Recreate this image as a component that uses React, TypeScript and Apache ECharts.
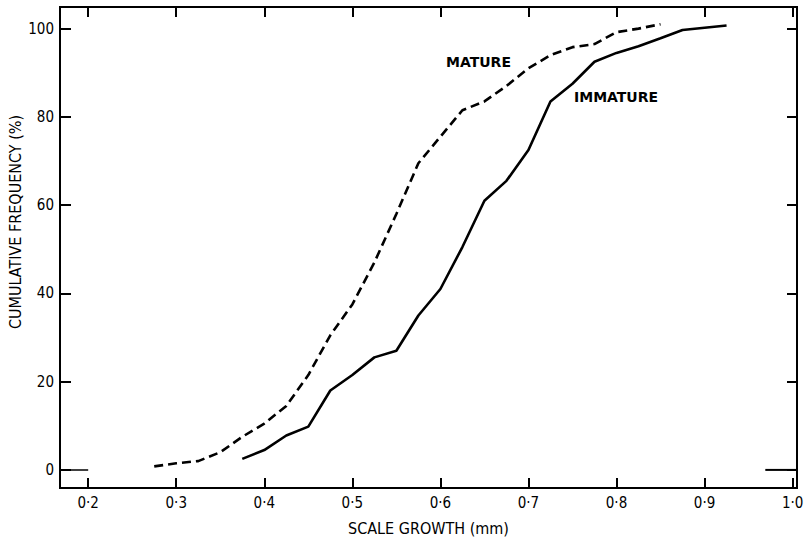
import React, { useEffect, useRef } from "react";
import * as echarts from "echarts";

// Data
const matureX = [0.275, 0.3, 0.325, 0.35, 0.375, 0.4, 0.425, 0.45, 0.475, 0.5, 0.525, 0.55, 0.575, 0.6, 0.625, 0.65, 0.675, 0.7, 0.725, 0.75, 0.775, 0.8, 0.825, 0.85];
const matureY = [0.8, 1.5, 2.0, 4.0, 7.5, 10.5, 14.5, 21.5, 30.5, 37.5, 47, 58, 69.5, 75.5, 81.5, 83.5, 87, 91, 94, 95.8, 96.5, 99.2, 100, 101];

const immatureX = [0.375, 0.4, 0.425, 0.45, 0.475, 0.5, 0.525, 0.55, 0.575, 0.6, 0.625, 0.65, 0.675, 0.7, 0.725, 0.75, 0.775, 0.8, 0.825, 0.85, 0.875, 0.9, 0.925];
const immatureY = [2.5, 4.5, 7.8, 9.8, 18, 21.5, 25.5, 27, 35, 41, 50.5, 61, 65.5, 72.5, 83.5, 87.5, 92.5, 94.5, 96, 97.8, 99.7, 100.2, 100.7];

const xTicks = [0.2, 0.3, 0.4, 0.5, 0.6, 0.7, 0.8, 0.9, 1.0];
const yTicks = [0, 20, 40, 60, 80, 100];

const X_MIN = 0.168;
const X_MAX = 1.005;
const Y_MIN = -4.1;
const Y_MAX = 104.9;

const zeroLeft = [[X_MIN, 0], [0.2, 0]];
const zeroRight = [[0.969, 0], [X_MAX, 0]];

const FONT = '"DejaVu Sans Condensed", "DejaVu Sans", sans-serif';
const LABEL_FONT = '"DejaVu Sans", sans-serif';

export default function App() {
  const ref = useRef<HTMLDivElement>(null);
  useEffect(() => {
    if (!ref.current) return;
    const chart = echarts.init(ref.current, undefined, { renderer: "svg" });
    const fmt = (v: number) => v.toFixed(1).replace(".", "·");
    const tickStyle = { color: "#000", width: 2 };
    chart.setOption({
      animation: false,
      backgroundColor: "#fff",
      grid: {
        left: 60,
        right: 14,
        top: 7,
        bottom: 52,
        containLabel: false,
        outerBoundsMode: "none",
        show: true,
        borderColor: "#000",
        borderWidth: 2,
        backgroundColor: "transparent",
      },
      xAxis: [
        {
          type: "value",
          min: X_MIN,
          max: X_MAX,
          position: "bottom",
          axisLine: { show: false, onZero: false },
          splitLine: { show: false },
          axisTick: { show: true, inside: true, length: 10, customValues: xTicks, lineStyle: tickStyle },
          axisLabel: { customValues: xTicks, formatter: fmt, color: "#000", fontSize: 15, fontFamily: FONT, margin: 7 },
          name: "SCALE GROWTH (mm)",
          nameLocation: "middle",
          nameGap: 32,
          nameTextStyle: { color: "#000", fontSize: 16, fontFamily: FONT },
        },
        {
          type: "value",
          min: X_MIN,
          max: X_MAX,
          position: "top",
          axisLine: { show: false, onZero: false },
          splitLine: { show: false },
          axisTick: { show: true, inside: true, length: 10, customValues: xTicks, lineStyle: tickStyle },
          axisLabel: { show: false },
        },
      ],
      yAxis: [
        {
          type: "value",
          min: Y_MIN,
          max: Y_MAX,
          position: "left",
          axisLine: { show: false, onZero: false },
          splitLine: { show: false },
          axisTick: { show: true, inside: true, length: 11, customValues: yTicks, lineStyle: tickStyle },
          axisLabel: { customValues: yTicks, color: "#000", fontSize: 15, fontFamily: FONT, margin: 6 },
        },
        {
          type: "value",
          min: Y_MIN,
          max: Y_MAX,
          position: "right",
          axisLine: { show: false, onZero: false },
          splitLine: { show: false },
          axisTick: { show: true, inside: true, length: 10, customValues: yTicks, lineStyle: tickStyle },
          axisLabel: { show: false },
        },
      ],
      series: [
        {
          name: "Mature",
          type: "line",
          data: matureX.map((x, i) => [x, matureY[i]]),
          showSymbol: false,
          symbol: "none",
          lineStyle: { color: "#000", width: 2.6, type: [9, 5] },
        },
        {
          name: "Immature",
          type: "line",
          data: immatureX.map((x, i) => [x, immatureY[i]]),
          showSymbol: false,
          symbol: "none",
          lineStyle: { color: "#000", width: 2.6 },
        },
        {
          name: "zeroLeft",
          type: "line",
          data: zeroLeft,
          symbol: "none",
          lineStyle: { color: "#000", width: 1.5 },
        },
        {
          name: "zeroRight",
          type: "line",
          data: zeroRight,
          symbol: "none",
          lineStyle: { color: "#000", width: 2 },
        },
      ],
      graphic: [
        {
          type: "text",
          x: 15,
          y: 222,
          rotation: Math.PI / 2,
          style: { text: "CUMULATIVE FREQUENCY (%)", fill: "#000", font: `16px ${FONT}`, verticalAlign: "middle", align: "center" },
        },
        {
          type: "text",
          x: 446,
          y: 62,
          style: { text: "MATURE", fill: "#000", font: `bold 14px ${LABEL_FONT}`, verticalAlign: "middle", align: "left" },
        },
        {
          type: "text",
          x: 574,
          y: 97,
          style: { text: "IMMATURE", fill: "#000", font: `bold 14px ${LABEL_FONT}`, verticalAlign: "middle", align: "left" },
        },
      ],
    });
    return () => chart.dispose();
  }, []);
  return <div ref={ref} style={{ position: "absolute", left: 0, top: 0, width: 811, height: 540 }} />;
}
